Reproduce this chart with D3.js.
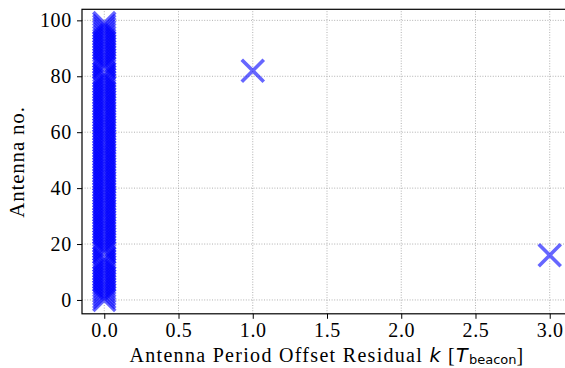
<!DOCTYPE html>
<html>
<head>
<meta charset="utf-8">
<script src="https://cdn.jsdelivr.net/npm/d3@7.9.0/dist/d3.min.js"></script>
<style>
  body { margin: 0; background: #fff; }
  svg text { font-family: "Liberation Serif", "Times New Roman", serif; fill: #000; }
  svg text .math { font-family: "DejaVu Sans", sans-serif; }
</style>
</head>
<body>
<svg id="chart" width="565" height="368"></svg>
<script>
// period offset residual k per antenna (index = antenna no.)
const offsets = [
  0, 0, 0, 0, 0, 0, 0, 0, 0, 0,
  0, 0, 0, 0, 0, 0, 3, 0, 0, 0,
  0, 0, 0, 0, 0, 0, 0, 0, 0, 0,
  0, 0, 0, 0, 0, 0, 0, 0, 0, 0,
  0, 0, 0, 0, 0, 0, 0, 0, 0, 0,
  0, 0, 0, 0, 0, 0, 0, 0, 0, 0,
  0, 0, 0, 0, 0, 0, 0, 0, 0, 0,
  0, 0, 0, 0, 0, 0, 0, 0, 0, 0,
  0, 0, 1, 0, 0, 0, 0, 0, 0, 0,
  0, 0, 0, 0, 0, 0, 0, 0, 0, 0
];
const xTicks = [0, 0.5, 1, 1.5, 2, 2.5, 3];
const yTicks = [0, 20, 40, 60, 80, 100];

const points = offsets.map((k, i) => ({ k: k, ant: i }));

const svg = d3.select('#chart');

let x = d3.scaleLinear().domain([-0.15, 3.15]).range([82, 572]);
let y = d3.scaleLinear().domain([-4.95, 103.95]).range([313.8, 9.3]);

// grid
const grid = svg.append('g');
grid.selectAll('.gx').data(xTicks).join('line')
  .attr('x1', d => x(d)).attr('x2', d => x(d))
  .attr('y1', y.range()[0]).attr('y2', y.range()[1])
  .attr('stroke', '#b0b0b0').attr('stroke-width', 1)
  .attr('stroke-dasharray', '1,1.6');
grid.selectAll('.gy').data(yTicks).join('line')
  .attr('y1', d => y(d)).attr('y2', d => y(d))
  .attr('x1', x.range()[0]).attr('x2', x.range()[1])
  .attr('stroke', '#b0b0b0').attr('stroke-width', 1)
  .attr('stroke-dasharray', '1,1.6');

// markers ('x')
const r = 11;
svg.append('g').selectAll('path').data(points).join('path')
  .attr('d', d => {
    let cx = x(d.k), cy = y(d.ant);
    return `M${cx - r},${cy - r}L${cx + r},${cy + r}M${cx - r},${cy + r}L${cx + r},${cy - r}`;
  })
  .attr('fill', 'none')
  .attr('stroke', 'blue')
  .attr('stroke-opacity', 0.6)
  .attr('stroke-width', 3.6);

// axes
const xAxis = svg.append('g')
  .attr('transform', `translate(0,${y.range()[0]})`)
  .call(d3.axisBottom(x).tickValues(xTicks).tickFormat(d3.format('.1f')).tickSize(5).tickPadding(4));
const yAxis = svg.append('g')
  .attr('transform', `translate(${x.range()[0]},0)`)
  .call(d3.axisLeft(y).tickValues(yTicks).tickSize(5).tickPadding(5));

[xAxis, yAxis].forEach(a => {
  a.attr('font-family', null);
  a.selectAll('text').attr('font-size', 20).attr('letter-spacing', 0.7);
  a.selectAll('line').attr('stroke', '#000').attr('stroke-width', 1);
  a.select('.domain').remove();
});

// frame
svg.append('rect')
  .attr('x', x.range()[0]).attr('y', y.range()[1])
  .attr('width', x.range()[1] - x.range()[0])
  .attr('height', y.range()[0] - y.range()[1])
  .attr('fill', 'none').attr('stroke', '#000').attr('stroke-width', 1.2);

// labels
const xl = svg.append('text')
  .attr('x', 327).attr('y', 362)
  .attr('text-anchor', 'middle')
  .attr('font-size', 20)
  .attr('letter-spacing', 1.3);
xl.append('tspan').text('Antenna Period Offset Residual ');
xl.append('tspan').attr('class', 'math').attr('font-style', 'italic').attr('font-size', 19).text('k');
xl.append('tspan').text(' [');
xl.append('tspan').attr('class', 'math').attr('font-style', 'italic').attr('font-size', 19).text('T');
xl.append('tspan').attr('class', 'math').attr('font-size', 13).attr('letter-spacing', 0).attr('dy', 2).text('beacon');
xl.append('tspan').attr('dy', -2).text(']');

svg.append('text')
  .attr('transform', 'translate(24,162) rotate(-90)')
  .attr('text-anchor', 'middle')
  .attr('font-size', 21)
  .attr('letter-spacing', 0.8)
  .text('Antenna no.');
</script>
</body>
</html>
